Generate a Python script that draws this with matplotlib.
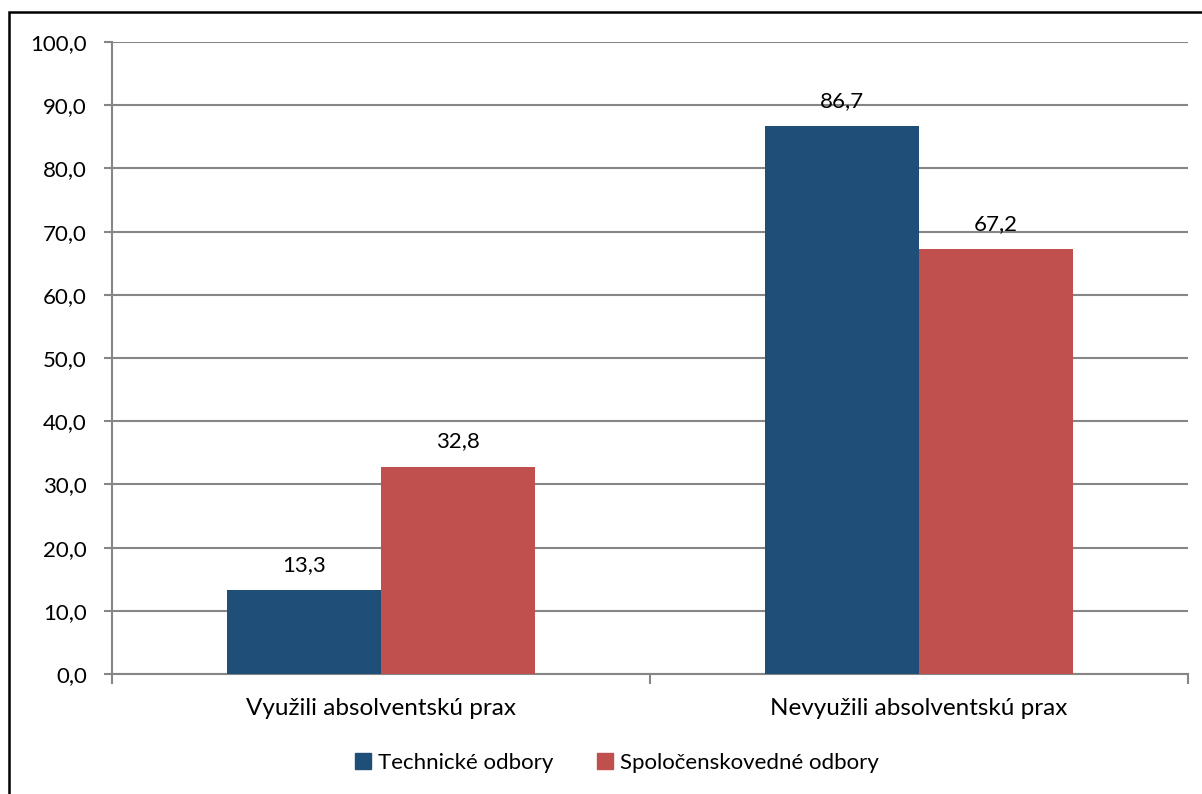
import matplotlib
matplotlib.use("Agg")
import matplotlib.pyplot as plt
from matplotlib.patches import Rectangle, Patch

categories = ["Využili absolventskú prax", "Nevyužili absolventskú prax"]
series_names = ["Technické odbory", "Spoločenskovedné odbory"]
technicke = [13.3, 86.7]
spolocenske = [32.8, 67.2]
colors = ["#1F4E79", "#C0504D"]
yticks = [0, 10, 20, 30, 40, 50, 60, 70, 80, 90, 100]

plt.rcParams['font.family'] = ['Lato', 'DejaVu Sans']

W, H = 1202, 794
fig = plt.figure(figsize=(W/100, H/100), dpi=100)
ax = fig.add_axes([112/W, 1 - 674/H, (1188-112)/W, (674-42)/H])

grid_c = "#868686"
bw = 0.2865
xs = range(len(categories))
for i, (vals, c) in enumerate(zip([technicke, spolocenske], colors)):
    off = (-0.5 + i) * bw
    pos = [x + off for x in xs]
    ax.bar(pos, vals, width=bw, color=c, zorder=3, label=series_names[i])
    for p, v in zip(pos, vals):
        ax.annotate(f"{v:.1f}".replace(".", ","), (p, v), xytext=(0, 11),
                    textcoords="offset points", ha="center", va="bottom",
                    fontsize=16, color="black")

ax.set_xlim(-0.5, 1.5)
ax.set_ylim(0, 100)
ax.set_yticks(yticks)
ax.set_yticklabels([f"{t:.1f}".replace(".", ",") for t in yticks], fontsize=16)
ax.yaxis.grid(True, color=grid_c, linewidth=1.5, zorder=0)
ax.set_axisbelow(True)

ax.set_xticks([-0.5, 0.5, 1.5])
ax.set_xticklabels([])
ax.set_xticks([0, 1], minor=True)
ax.set_xticklabels(categories, minor=True, fontsize=17.5)
ax.tick_params(axis="x", which="minor", length=0, pad=17)
ax.tick_params(axis="x", which="major", length=7, width=1.5, color=grid_c)
ax.tick_params(axis="y", length=6, width=1.5, color=grid_c, pad=12)

for s in ["top", "right"]:
    ax.spines[s].set_visible(False)
for s in ["left", "bottom"]:
    ax.spines[s].set_color(grid_c)
    ax.spines[s].set_linewidth(1.5)

handles = [Patch(color=c) for c in colors]
fig.legend(handles, series_names, loc="center", bbox_to_anchor=(617/W, 1 - 763/H),
           ncol=2, frameon=False, fontsize=16, handlelength=0.7, handleheight=0.7,
           columnspacing=2.0, handletextpad=0.3)

fig.patches.append(Rectangle((9/W, -0.05), 1.2, 1 - 12/H + 0.05,
                             transform=fig.transFigure, fill=False,
                             edgecolor="black", linewidth=1.8))

fig.savefig("out.png", dpi=100, facecolor="white")
